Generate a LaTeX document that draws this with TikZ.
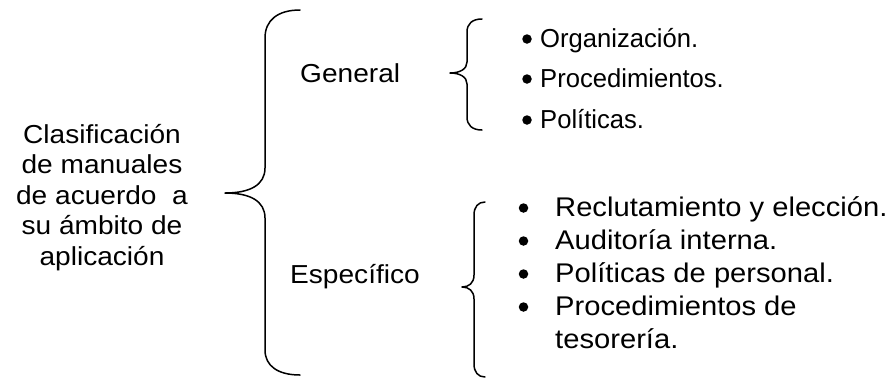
\documentclass[tikz,border=0pt]{standalone}
\usepackage{fontspec}
\setmainfont{Liberation Sans}
\begin{document}
\begin{tikzpicture}[x=1pt, y=-1pt,
  txt/.style={inner sep=0pt, font=\fontsize{26}{31}\selectfont, xscale=1.08},
  txtsmall/.style={inner sep=0pt, font=\fontsize{26}{31}\selectfont, xscale=0.985},
  txtlarge/.style={txt, font=\fontsize{27}{33}\selectfont},
  brace/.style={line width=1.5pt, line join=round, line cap=round},
  dot/.style={circle, fill=black, inner sep=0pt, minimum size=9.5pt}]
\useasboundingbox[fill=white] (0,0) rectangle (891,381);

% root label (anchored at the baseline of its last line)
\node[txt, align=center, anchor=base] (root) at (102,265)
  {Clasificación\\[-0.5pt]de manuales\\[-0.5pt]de acuerdo\ \ a\\[-0.5pt]su ámbito de\\[-0.5pt]aplicación};

% large brace
\coordinate (bigtop) at (300,10);
\coordinate (bigtip) at (225,193);
\coordinate (bigbot) at (300,375);
\draw[brace] (bigtop) .. controls (278,10) and (265,20) .. (265,38)
  -- (265,168) .. controls (265,185) and (250,193) .. (bigtip)
  .. controls (250,193) and (265,201) .. (265,218)
  -- (265,350) .. controls (265,366) and (278,375) .. (bigbot);

% branch labels
\node[txt, anchor=base west] (gen) at (300,82) {General};
\node[txt, anchor=base west] (esp) at (290,283) {Específico};

% brace of the general branch
\coordinate (gtop) at (482,19);
\coordinate (gtip) at (450,73);
\coordinate (gbot) at (482,130);
\draw[brace] (gtop) .. controls (472,19) and (467,24) .. (467,32)
  -- (467,62) .. controls (467,69) and (460,73) .. (gtip)
  .. controls (460,73) and (467,77) .. (467,84)
  -- (467,117) .. controls (467,125) and (472,130) .. (gbot);

% brace of the specific branch
\coordinate (stop) at (485,202);
\coordinate (stip) at (462,287);
\coordinate (sbot) at (485,377);
\draw[brace] (stop) .. controls (478,202) and (474,207) .. (474,215)
  -- (474,275) .. controls (474,283) and (469,287) .. (stip)
  .. controls (469,287) and (474,291) .. (474,299)
  -- (474,364) .. controls (474,372) and (478,377) .. (sbot);

% general items
\node[dot] (g1d) at (527,39) {};
\node[dot] (g2d) at (527,79) {};
\node[dot] (g3d) at (527,120) {};
\node[txtsmall, anchor=base west] (g1) at (540,47) {Organización.};
\node[txtsmall, anchor=base west] (g2) at (540,87) {Procedimientos.};
\node[txtsmall, anchor=base west] (g3) at (540,128) {Políticas.};

% specific items
\node[dot] (s1d) at (523.5,208) {};
\node[dot] (s2d) at (523.5,241) {};
\node[dot] (s3d) at (523.5,274) {};
\node[dot] (s4d) at (523.5,307) {};
\node[txtlarge, anchor=base west] (s1) at (555,216) {Reclutamiento y elección.};
\node[txtlarge, anchor=base west] (s2) at (555,249) {Auditoría interna.};
\node[txtlarge, anchor=base west] (s3) at (555,282) {Políticas de personal.};
\node[txtlarge, anchor=base west] (s4) at (555,315) {Procedimientos de};
\node[txtlarge, anchor=base west] (s5) at (555,348) {tesorería.};
\end{tikzpicture}
\end{document}
